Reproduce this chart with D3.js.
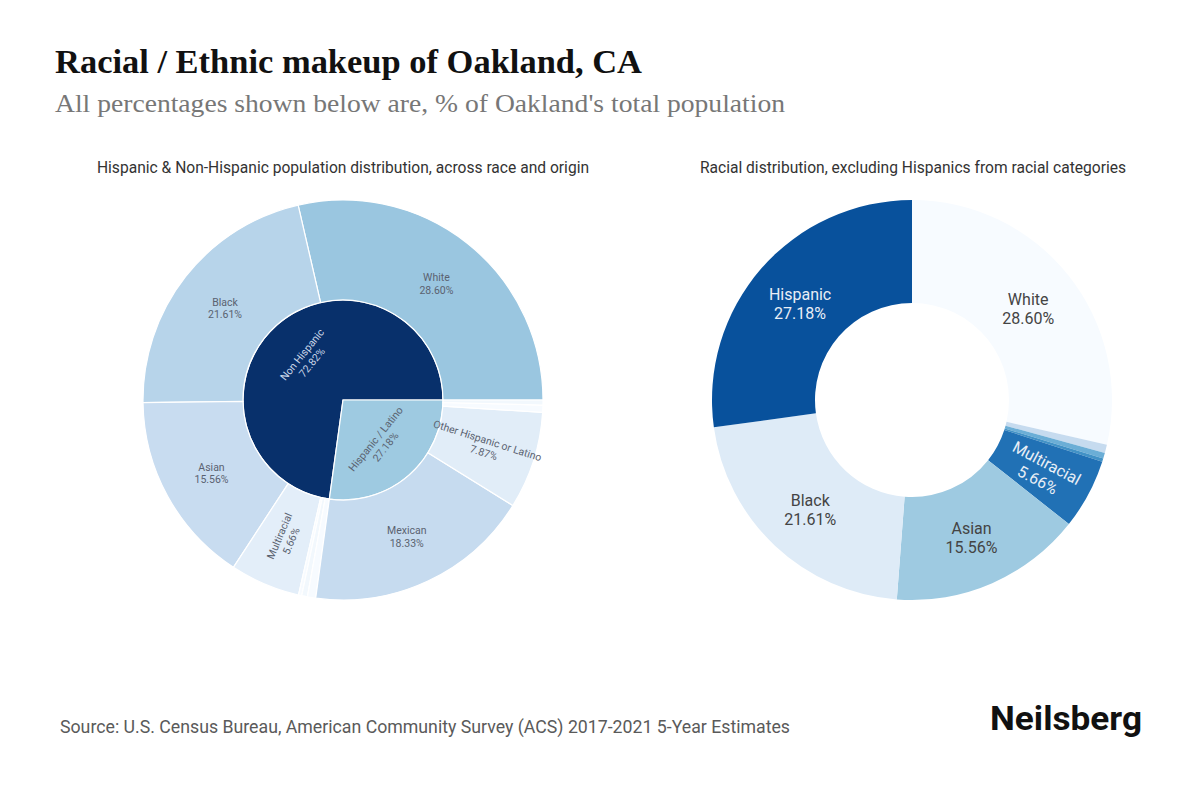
<!DOCTYPE html>
<html>
<head>
<meta charset="utf-8">
<script src="https://cdn.jsdelivr.net/npm/d3@7"></script>
<style>
  body { margin: 0; background: #fff; }
  svg { display: block; }
</style>
</head>
<body>
<div id="chart"></div>
<script>
// left chart: inner ring = origin, outer ring = race / origin detail
const originNames = ['Non Hispanic', 'Hispanic / Latino']
const nonHispanicNames = ['White', 'Black', 'Asian', 'Multiracial', 'American Indian and Alaska Native', 'Native Hawaiian and Other Pacific Islander', 'Some other race']
const nonHispanicValues = [28.6, 21.61, 15.56, 5.66, 0.26, 0.46, 0.67]
const hispanicNames = ['Mexican', 'Other Hispanic or Latino', 'Puerto Rican', 'Cuban']
const hispanicValues = [18.33, 7.87, 0.58, 0.4]

// right chart: donut, clockwise from 12 o'clock
const donutNames = ['White', 'Some other race', 'Native Hawaiian and Other Pacific Islander', 'American Indian and Alaska Native', 'Multiracial', 'Asian', 'Black', 'Hispanic']
const donutValues = [28.6, 0.67, 0.46, 0.26, 5.66, 15.56, 21.61, 27.18]

const leftLabelled = ['Non Hispanic', 'Hispanic / Latino', 'White', 'Black', 'Asian', 'Multiracial', 'Mexican', 'Other Hispanic or Latino']
const rightLabelled = ['White', 'Multiracial', 'Asian', 'Black', 'Hispanic']

const leftColors = {
  'Non Hispanic': '#08306b',
  'Hispanic / Latino': '#9ecae1',
  'White': '#9ac6e0',
  'Black': '#b7d4ea',
  'Asian': '#c8dcf0',
  'Multiracial': '#e3eef9',
  'American Indian and Alaska Native': '#f7fbff',
  'Native Hawaiian and Other Pacific Islander': '#f2f8fd',
  'Some other race': '#f7fbff',
  'Mexican': '#c6dbef',
  'Other Hispanic or Latino': '#e1edf8',
  'Puerto Rican': '#f7fbff',
  'Cuban': '#f2f8fd'
}
const leftOrient = {
  'Non Hispanic': 'tangential',
  'Hispanic / Latino': 'tangential',
  'Multiracial': 'radial',
  'Other Hispanic or Latino': 'radial'
}
const donutColors = ['#f7fbff', '#c6dbef', '#6baed6', '#4292c6', '#2171b5', '#9ecae1', '#deebf7', '#08519c']

const width = 1200
const height = 800

const svg = d3
  .select('#chart')
  .append('svg')
  .attr('width', width)
  .attr('height', height)
  .style('font-family', 'Roboto, sans-serif')

svg.append('rect').attr('width', width).attr('height', height).attr('fill', '#fff')

// titles
svg
  .append('text')
  .text('Racial / Ethnic makeup of Oakland, CA')
  .attr('x', 55)
  .attr('y', 73)
  .attr('font-family', "'Liberation Serif', serif")
  .attr('font-weight', 700)
  .attr('font-size', 34)
  .attr('textLength', 587)
  .attr('lengthAdjust', 'spacingAndGlyphs')
  .attr('fill', '#111')

svg
  .append('text')
  .text("All percentages shown below are, % of Oakland's total population")
  .attr('x', 55)
  .attr('y', 112)
  .attr('font-family', "'Liberation Serif', serif")
  .attr('font-size', 26)
  .attr('textLength', 730)
  .attr('lengthAdjust', 'spacingAndGlyphs')
  .attr('fill', '#777')

svg
  .append('text')
  .text('Hispanic & Non-Hispanic population distribution, across race and origin')
  .attr('x', 343)
  .attr('y', 173)
  .attr('text-anchor', 'middle')
  .attr('font-size', 15.6)
  .attr('fill', '#333')

svg
  .append('text')
  .text('Racial distribution, excluding Hispanics from racial categories')
  .attr('x', 913)
  .attr('y', 173)
  .attr('text-anchor', 'middle')
  .attr('font-size', 15.6)
  .attr('fill', '#333')

svg
  .append('text')
  .text('Source: U.S. Census Bureau, American Community Survey (ACS) 2017-2021 5-Year Estimates')
  .attr('x', 60)
  .attr('y', 733)
  .attr('font-size', 17.5)
  .attr('textLength', 730)
  .attr('lengthAdjust', 'spacingAndGlyphs')
  .attr('fill', '#5a5a5a')

svg
  .append('text')
  .text('Neilsberg')
  .attr('x', 990)
  .attr('y', 730)
  .attr('font-family', 'Roboto, sans-serif')
  .attr('font-weight', 700)
  .attr('font-size', 34)
  .attr('textLength', 152)
  .attr('lengthAdjust', 'spacingAndGlyphs')
  .attr('fill', '#111')

const deg = r => (r * 180) / Math.PI
function normRot(a) {
  a = ((a % 360) + 360) % 360
  if (a > 180) a -= 360
  if (a > 90) a -= 180
  if (a <= -90) a += 180
  return a
}

function addLabel(g, name, value, pos, rot, size, color) {
  const t = g
    .append('text')
    .attr('transform', `translate(${pos}) rotate(${rot})`)
    .attr('text-anchor', 'middle')
    .attr('font-size', size)
    .attr('fill', color)
  t.append('tspan').attr('x', 0).attr('dy', '-0.15em').text(name)
  t.append('tspan').attr('x', 0).attr('dy', '1.2em').text(value.toFixed(2) + '%')
}

// ---------- left: sunburst ----------
const left = svg.append('g').attr('transform', 'translate(343,400)')

const tree = {
  name: 'root',
  children: [
    {
      name: originNames[0],
      children: nonHispanicNames.map((n, i) => ({ name: n, value: nonHispanicValues[i] }))
    },
    {
      name: originNames[1],
      children: hispanicNames.map((n, i) => ({ name: n, value: hispanicValues[i] }))
    }
  ]
}

const root = d3.hierarchy(tree).sum(d => d.value || 0)
d3.partition().size([2 * Math.PI, 3])(root)

const radius = d3.scaleLinear().domain([1, 3]).range([0, 200])

// plotly style: start at 3 o'clock, go counter-clockwise
const angle = x => Math.PI / 2 - x

const sunArc = d3
  .arc()
  .startAngle(d => angle(d.x0))
  .endAngle(d => angle(d.x1))
  .innerRadius(d => radius(d.y0))
  .outerRadius(d => radius(d.y1))

const nodes = root.descendants().filter(d => d.depth > 0)

left
  .selectAll('path')
  .data(nodes)
  .enter()
  .append('path')
  .attr('d', sunArc)
  .attr('fill', d => leftColors[d.data.name])
  .attr('stroke', '#fff')
  .attr('stroke-width', 1.2)

nodes
  .filter(d => leftLabelled.includes(d.data.name))
  .forEach(d => {
    const theta = deg((angle(d.x0) + angle(d.x1)) / 2)
    const o = leftOrient[d.data.name]
    let rot = 0
    // the inner labels sit a bit steeper in the original
    if (o === 'tangential') rot = normRot(theta) + (theta > 180 || theta < 0 ? -10 : 10)
    if (o === 'radial') rot = normRot(theta - 90)
    const color = d.data.name === 'Non Hispanic' ? '#c9d6e8' : '#5a6270'
    let pos = sunArc.centroid(d)
    if (d.depth === 1) pos = pos.map(v => v * 1.12)
    addLabel(left, d.data.name, d.value, pos, rot, 10.5, color)
  })

// ---------- right: donut ----------
const right = svg.append('g').attr('transform', 'translate(912,400)')

const pie = d3.pie().sort(null).value(d => d.value)
const donutData = pie(donutNames.map((n, i) => ({ name: n, value: donutValues[i], color: donutColors[i] })))

const donutArc = d3.arc().innerRadius(97).outerRadius(200)

right
  .selectAll('path')
  .data(donutData)
  .enter()
  .append('path')
  .attr('d', donutArc)
  .attr('fill', d => d.data.color)

donutData
  .filter(d => rightLabelled.includes(d.data.name))
  .forEach(d => {
    const theta = deg((d.startAngle + d.endAngle) / 2)
    const rot = d.data.name === 'Multiracial' ? normRot(theta - 90) : 0
    const dark = d.data.name === 'Hispanic' || d.data.name === 'Multiracial'
    addLabel(right, d.data.name, d.data.value, donutArc.centroid(d), rot, 16, dark ? '#e8eef6' : '#444')
  })
</script>
</body>
</html>
